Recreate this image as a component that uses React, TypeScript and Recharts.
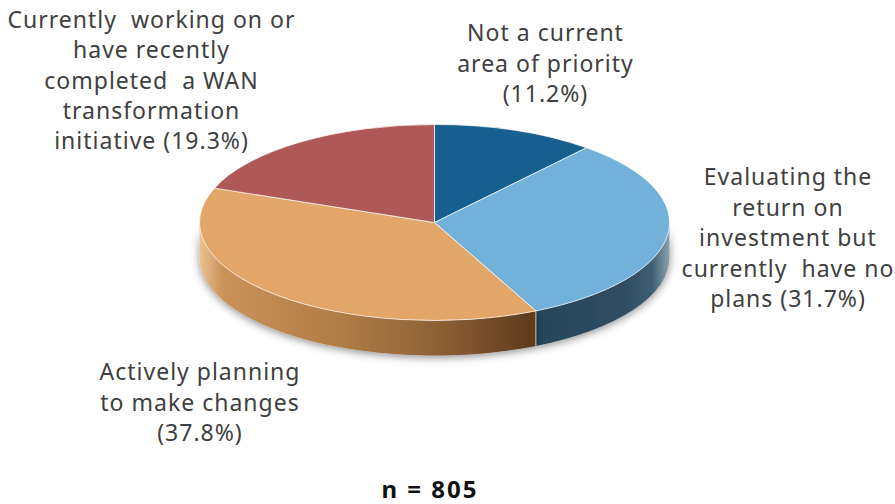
import { PieChart, Pie, Cell } from 'recharts';

const categories = [
  'Not a current area of priority',
  'Evaluating the return on investment but currently have no plans',
  'Actively planning to make changes',
  'Currently working on or have recently completed a WAN transformation initiative',
];
const shares = [11.2, 31.7, 37.8, 19.3];
const topColors = ['#175f8e', '#72b1da', '#e3a669', '#ae5957'];
const sideFills = ['#175f8e', 'url(#wallBlue)', 'url(#wallOrange)', '#ae5957'];

const priorityLines = ['Not a current', 'area of priority', '(11.2%)'];
const evaluatingLines = ['Evaluating the', 'return on', 'investment but', 'currently  have no', 'plans (31.7%)'];
const planningLines = ['Actively planning', 'to make changes', '(37.8%)'];
const workingLines = ['Currently  working on or', 'have recently', 'completed  a WAN', 'transformation', 'initiative (19.3%)'];
const sampleNote = 'n = 805';

const data = categories.map((name, i) => ({ name, value: shares[i] }));

const SQUASH = 98 / 235;
const DEPTH = 35;
const FONT = '"Noto Sans", sans-serif';

function pointAt(cx: number, cy: number, r: number, deg: number) {
  const a = (deg * Math.PI) / 180;
  return [cx + r * Math.cos(a), cy - r * SQUASH * Math.sin(a)];
}

// recharts gives the sector angles, we just flatten them onto an ellipse
function TopFace(props: any) {
  const { cx, cy, outerRadius: r, startAngle, endAngle, fill } = props;
  const [x1, y1] = pointAt(cx, cy, r, startAngle);
  const [x2, y2] = pointAt(cx, cy, r, endAngle);
  const large = Math.abs(startAngle - endAngle) > 180 ? 1 : 0;
  const d = `M${cx},${cy}L${x1},${y1}A${r},${r * SQUASH} 0 ${large} 1 ${x2},${y2}Z`;
  return <path d={d} fill={fill} stroke="#fff" strokeOpacity={0.75} strokeWidth={0.9} />;
}

// only the part of the rim facing the viewer (180..360 deg) gets a wall
function SideWall(props: any) {
  const { cx, cy, outerRadius: r, startAngle, endAngle, fill } = props;
  const from = Math.min(startAngle, 0);
  const to = Math.max(endAngle, -180);
  if (from <= to) return null;
  const [x1, y1] = pointAt(cx, cy, r, from);
  const [x2, y2] = pointAt(cx, cy, r, to);
  const ry = r * SQUASH;
  const d =
    `M${x1},${y1}A${r},${ry} 0 0 1 ${x2},${y2}` +
    `L${x2},${y2 + DEPTH}A${r},${ry} 0 0 0 ${x1},${y1 + DEPTH}Z`;
  return (
    <g>
      <path d={d} fill={fill} filter="url(#pieShadow)" />
      {from === startAngle && (
        <line x1={x1} y1={y1} x2={x1} y2={y1 + DEPTH} stroke="#fff" strokeOpacity={0.7} strokeWidth={1} />
      )}
    </g>
  );
}

function Label({ lines, x, y, step = 30.5 }: { lines: string[]; x: number; y: number; step?: number }) {
  return (
    <text
      x={x}
      y={y}
      textAnchor="middle"
      fill="#404040"
      fontFamily={FONT}
      fontSize={23}
      letterSpacing={1}
      style={{ whiteSpace: 'pre' }}
    >
      {lines.map((line, i) => (
        <tspan key={line} x={x} y={y + i * step}>
          {line}
        </tspan>
      ))}
    </text>
  );
}

export default function App() {
  return (
    <div style={{ position: 'absolute', left: 0, top: 0, width: 895, height: 504, background: '#fff' }}>
      <PieChart width={895} height={504} margin={{ top: 0, right: 0, bottom: 0, left: 0 }}>
        <defs>
          <linearGradient id="wallOrange" x1="0" y1="0" x2="1" y2="0">
            <stop offset="0" stopColor="#ecc092" />
            <stop offset="0.07" stopColor="#c99257" />
            <stop offset="0.4" stopColor="#b27e47" />
            <stop offset="0.7" stopColor="#8f6236" />
            <stop offset="1" stopColor="#5c3a1c" />
          </linearGradient>
          <linearGradient id="wallBlue" x1="0" y1="0" x2="1" y2="0">
            <stop offset="0" stopColor="#26455a" />
            <stop offset="0.65" stopColor="#2f4d63" />
            <stop offset="0.87" stopColor="#3f5e72" />
            <stop offset="1" stopColor="#8aa2af" />
          </linearGradient>
          <filter id="pieShadow" x="-10%" y="-20%" width="120%" height="150%">
            <feDropShadow dx={0} dy={2} stdDeviation={4} floodColor="#000" floodOpacity={0.45} />
          </filter>
        </defs>
        <Pie
          data={data}
          dataKey="value"
          cx={434.5}
          cy={222.5}
          outerRadius={235}
          startAngle={90}
          endAngle={-270}
          stroke="none"
          shape={SideWall}
          isAnimationActive={false}
        >
          {data.map((d, i) => (
            <Cell key={d.name} fill={sideFills[i]} />
          ))}
        </Pie>
        <Pie
          data={data}
          dataKey="value"
          cx={434.5}
          cy={222.5}
          outerRadius={235}
          startAngle={90}
          endAngle={-270}
          shape={TopFace}
          isAnimationActive={false}
        >
          {data.map((d, i) => (
            <Cell key={d.name} fill={topColors[i]} />
          ))}
        </Pie>
        <Label lines={workingLines} x={151.5} y={28} step={30.3} />
        <Label lines={priorityLines} x={545.5} y={41} />
        <Label lines={evaluatingLines} x={788} y={185} />
        <Label lines={planningLines} x={200} y={380} />
        <text x={430} y={498} textAnchor="middle" fill="#111" fontFamily={FONT} fontSize={24} fontWeight={700} letterSpacing={2}>
          {sampleNote}
        </text>
      </PieChart>
    </div>
  );
}
